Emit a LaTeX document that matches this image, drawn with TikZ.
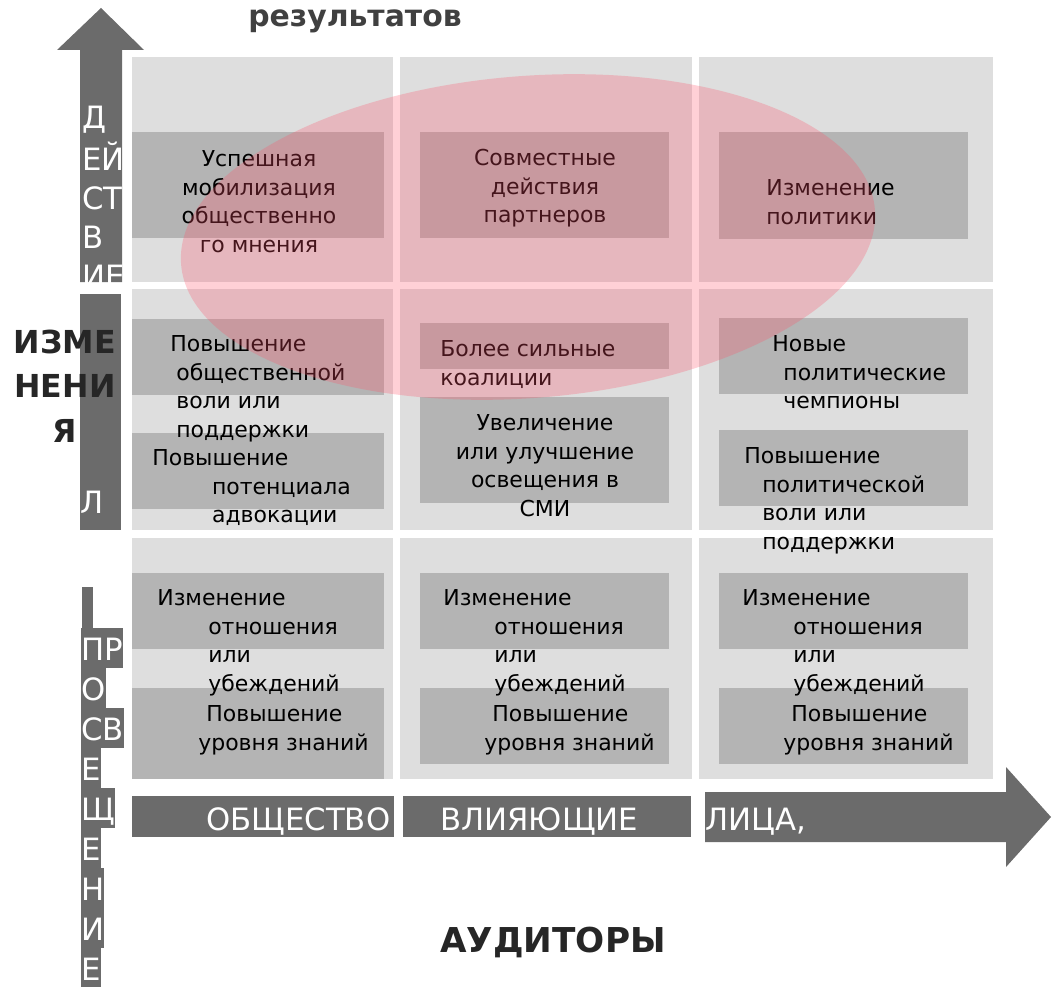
\documentclass[tikz,border=0pt]{standalone}
\usepackage{fontspec}
\setmainfont{DejaVu Sans}
\definecolor{shaft}{HTML}{6B6B6B}
\definecolor{cellgray}{HTML}{DEDEDE}
\definecolor{boxgray}{HTML}{B4B4B4}
\definecolor{titlegray}{HTML}{404040}
\definecolor{labelgray}{HTML}{262626}
\definecolor{blush}{RGB}{255,81,104}
\begin{document}
\begin{tikzpicture}[x=0.02cm, y=-0.02cm,
	cellfill/.style={fill=cellgray},
	boxfill/.style={fill=boxgray},
	txt/.style={inner sep=0pt, align=left, anchor=north west, font=\fontsize{12.5}{16.3}\selectfont},
	ctxt/.style={txt, align=center, anchor=north},
	white label/.style={inner sep=0pt, anchor=base west, text=white, font=\fontsize{17.5}{22.2}\selectfont},
	vletter/.style={white label, fill=shaft, text height=18.2pt, text depth=4.6pt},
	big label/.style={inner sep=0pt, text=labelgray, font=\bfseries\fontsize{18}{25.3}\selectfont}
]

	\useasboundingbox (0,0) rectangle (1053,986);

	\fill[cellfill] (132,57) rectangle (393,282);
	\fill[cellfill] (400,57) rectangle (692,282);
	\fill[cellfill] (699,57) rectangle (993,282);
	\fill[cellfill] (132,289) rectangle (393,530);
	\fill[cellfill] (400,289) rectangle (692,530);
	\fill[cellfill] (699,289) rectangle (993,530);
	\fill[cellfill] (132,538) rectangle (393,779);
	\fill[cellfill] (400,538) rectangle (692,779);
	\fill[cellfill] (699,538) rectangle (993,779);

	\fill[boxfill] (132,132) rectangle (384,238);
	\fill[boxfill] (420,132) rectangle (669,238);
	\fill[boxfill] (719,132) rectangle (968,239);
	\fill[boxfill] (132,319) rectangle (384,395);
	\fill[boxfill] (132,433) rectangle (384,509);
	\fill[boxfill] (420,323) rectangle (669,369);
	\fill[boxfill] (420,397) rectangle (669,503);
	\fill[boxfill] (719,318) rectangle (968,394);
	\fill[boxfill] (719,430) rectangle (968,506);
	\fill[boxfill] (132,573) rectangle (384,649);
	\fill[boxfill] (132,688) rectangle (384,779);
	\fill[boxfill] (420,573) rectangle (669,649);
	\fill[boxfill] (420,688) rectangle (669,764);
	\fill[boxfill] (719,573) rectangle (968,649);
	\fill[boxfill] (719,688) rectangle (968,764);

	\node[ctxt] (mobilization) at (259,146) {\strut Успешная\\мобилизация\\общественно\\го мнения};
	\node[ctxt] (joint) at (545,145) {\strut Совместные\\действия\\партнеров};
	\node[txt] (policy) at (766,175) {\strut Изменение\\политики};
	\node[txt] (publicwill) at (170,331) {\strut Повышение\\\hspace*{3.4pt}общественной\\\hspace*{3.4pt}воли или\\\hspace*{3.4pt}поддержки};
	\node[txt] (advocacy) at (152,445) {\strut Повышение\\\hspace*{34pt}потенциала\\\hspace*{34pt}адвокации};
	\node[txt] (coalitions) at (440,336) {\strut Более сильные\\коалиции};
	\node[ctxt] (media) at (545,410) {\strut Увеличение\\или улучшение\\освещения в\\СМИ};
	\node[txt] (champions) at (772,331) {\strut Новые\\\hspace*{6.3pt}политические\\\hspace*{6.3pt}чемпионы};
	\node[txt] (politicalwill) at (744,443) {\strut Повышение\\\hspace*{10.2pt}политической\\\hspace*{10.2pt}воли или\\\hspace*{10.2pt}поддержки};
	\node[txt] (attitudes1) at (157,585) {\strut Изменение\\\hspace*{29pt}отношения\\\hspace*{29pt}или\\\hspace*{29pt}убеждений};
	\node[txt] (attitudes2) at (443,585) {\strut Изменение\\\hspace*{29pt}отношения\\\hspace*{29pt}или\\\hspace*{29pt}убеждений};
	\node[txt] (attitudes3) at (742,585) {\strut Изменение\\\hspace*{29pt}отношения\\\hspace*{29pt}или\\\hspace*{29pt}убеждений};
	\node[txt] (knowledge1) at (198,701) {\strut\hspace*{4.6pt}Повышение\\уровня знаний};
	\node[txt] (knowledge2) at (484,701) {\strut\hspace*{4.6pt}Повышение\\уровня знаний};
	\node[txt] (knowledge3) at (783,701) {\strut\hspace*{4.6pt}Повышение\\уровня знаний};

	\fill[blush, opacity=0.27, rotate around={4.5:(528,237)}] (528,237) ellipse [x radius=348, y radius=161];

	\fill[shaft] (80,282) -- (80,50) -- (57,50) -- (101,8) -- (144,50) -- (122,50) -- (122,282) -- cycle;
	\begin{scope}
		\clip (80,50) rectangle (123,282);
		\node[txt, text=white, font=\fontsize{17.5}{22.2}\selectfont] (action) at (82,101) {\strut Д\\ЕЙ\\СТ\\В\\ИЕ};
	\end{scope}
	\fill[shaft] (80,294) rectangle (121,530);
	\node[white label] (el) at (80,513) {Л};
	\node[big label, align=center, anchor=north] (changes) at (65,322) {\strut ИЗМЕ\\НЕНИ\\Я};

	\fill[shaft] (82,587) rectangle (93,628);
	\node[vletter] (pr) at (81,660) {ПР};
	\node[vletter] (o) at (81,700) {О};
	\node[vletter] (sv) at (81,740) {СВ};
	\node[vletter] (e1) at (81,780) {Е};
	\node[vletter] (shch) at (81,820) {Щ};
	\node[vletter] (e2) at (81,860) {Е};
	\node[vletter] (en) at (81,900) {Н};
	\node[vletter] (i) at (81,940) {И};
	\node[vletter] (e3) at (81,980) {Е};

	\fill[shaft] (132,796) rectangle (394,837);
	\fill[shaft] (403,796) rectangle (691,837);
	\fill[shaft] (705,792) -- (1006,792) -- (1006,767) -- (1051,817) -- (1006,867) -- (1006,842) -- (705,842) -- cycle;
	\node[white label] (society) at (206,830) {ОБЩЕСТВО};
	\node[white label] (influential) at (440,830) {ВЛИЯЮЩИЕ};
	\node[white label] (persons) at (705,830) {ЛИЦА,};

	\node[inner sep=0pt, anchor=base, text=titlegray, font=\bfseries\fontsize{17}{20}\selectfont] (results) at (355,27) {результатов};
	\node[inner sep=0pt, anchor=base, text=labelgray, font=\bfseries\fontsize{19.5}{24}\selectfont] (auditors) at (553,952) {АУДИТОРЫ};

\end{tikzpicture}
\end{document}
